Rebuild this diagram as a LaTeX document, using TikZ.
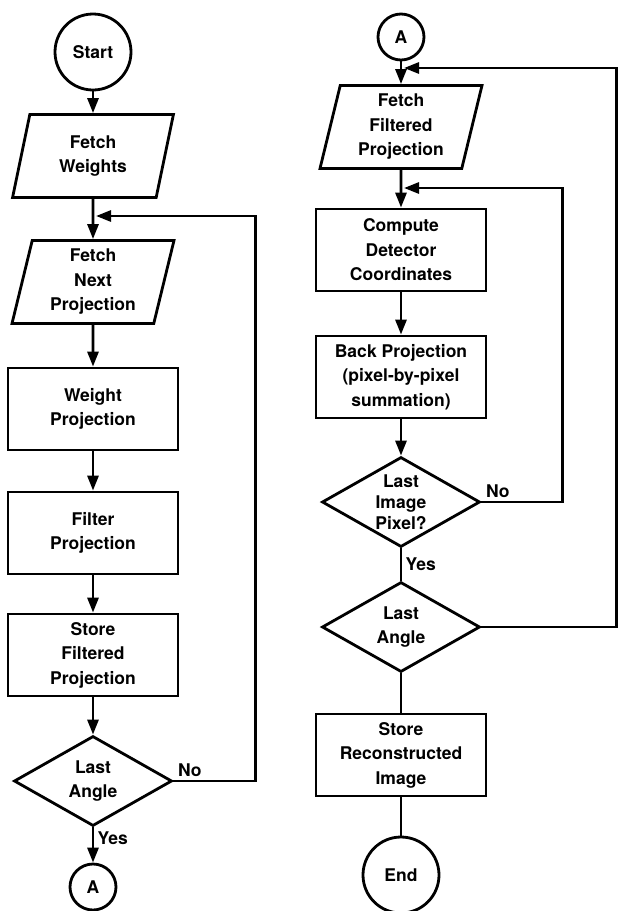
\documentclass[tikz,border=0pt]{standalone}
\usepackage{fontspec}
\setmainfont{TeX Gyre Heros}
\usetikzlibrary{shapes.geometric,arrows.meta}

\begin{document}
\begin{tikzpicture}[x=1pt,y=-1pt,line width=2.8pt,
  font=\fontsize{17.5}{24.5}\selectfont\bfseries,
  term/.style={draw,circle,minimum size=76pt,inner sep=0pt},
  conn/.style={draw,circle,minimum size=46pt,inner sep=0pt},
  io/.style={draw,trapezium,trapezium left angle=78,trapezium right angle=102,
    trapezium stretches=true,minimum width=162pt,minimum height=83pt,align=center},
  proc/.style={draw,rectangle,minimum width=170pt,minimum height=82pt,align=center},
  test/.style={draw,diamond,minimum width=158pt,minimum height=90pt,inner sep=0pt},
  arr/.style={-{Triangle[length=15pt,width=11pt]}}]
\useasboundingbox (0,0) rectangle (618,911);

% left column
\node[term] (start) at (93,52) {Start};
\node[io] (weights) at (93,156) {Fetch\\Weights};
\node[io] (nextproj) at (93,282) {Fetch\\Next\\Projection};
\node[proc] (weight) at (93,409) {Weight\\Projection};
\node[proc] (filter) at (93,533) {Filter\\Projection};
\node[proc] (store) at (93,655) {Store\\Filtered\\Projection};
\node[test,label={[align=center]center:Last\\Angle}] (last) at (93,781) {};
\node[conn] (a1) at (93,887) {A};
\coordinate (j1) at (96,216);

\draw[arr] (start) -- (weights);
\draw[arr] (weights) -- (nextproj);
\draw[arr] (nextproj) -- (weight);
\draw[arr] (weight) -- (filter);
\draw[arr] (filter) -- (store);
\draw[arr] (store) -- (last);
\draw[arr] (last) -- node[pos=0.3,right]{Yes} (a1);
\draw[arr] (last.east) node[above right]{No} -- ++(82,0) |- (j1);

% right column
\node[conn] (a2) at (401,37) {A};
\node[io] (filtered) at (401,127) {Fetch\\Filtered\\Projection};
\node[proc] (coords) at (401,250) {Compute\\Detector\\Coordinates};
\node[proc] (backproj) at (401,377) {Back Projection\\(pixel-by-pixel\\summation)};
\node[test,label={[align=center,font=\fontsize{17.5}{21}\selectfont\bfseries]center:Last\\Image\\Pixel?}] (lastpix) at (401,502) {};
\node[test,label={[align=center]center:Last\\Angle}] (lastang) at (401,627) {};
\node[proc] (recon) at (401,755) {Store\\Reconstructed\\Image};
\node[term] (end) at (401,875) {End};
\coordinate (j2) at (404,188);
\coordinate (j3) at (404,68);

\draw[arr] (a2) -- (filtered);
\draw[arr] (filtered) -- (coords);
\draw[arr] (coords) -- (backproj);
\draw[arr] (backproj) -- (lastpix);
\draw (lastpix) -- node[right]{Yes} (lastang);
\draw (lastang) -- (recon);
\draw (recon) -- (end);
\draw[arr] (lastpix.east) node[above right]{No} -- ++(81,0) |- (j2);
\draw[arr] (lastang.east) -- ++(135,0) |- (j3);

\end{tikzpicture}
\end{document}
